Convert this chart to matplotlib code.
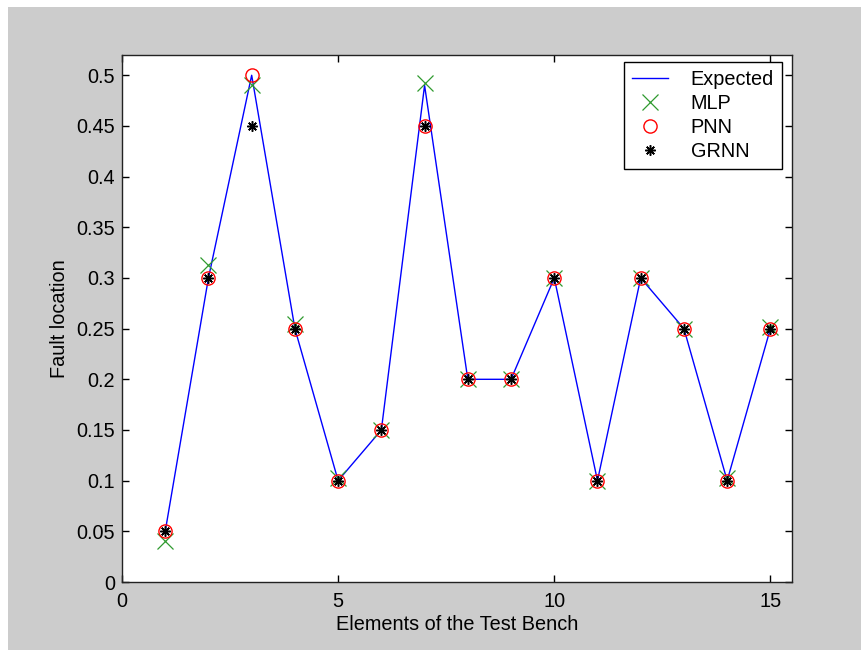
import matplotlib
matplotlib.use("Agg")
import matplotlib.pyplot as plt
from matplotlib.patches import Rectangle

elements = list(range(1, 16))
expected = [0.05, 0.30, 0.50, 0.25, 0.10, 0.15, 0.49, 0.20, 0.20, 0.30, 0.10, 0.30, 0.25, 0.10, 0.25]
mlp      = [0.04, 0.313, 0.49, 0.255, 0.103, 0.15, 0.492, 0.20, 0.20, 0.30, 0.10, 0.30, 0.25, 0.103, 0.252]
pnn      = [0.05, 0.30, 0.50, 0.25, 0.10, 0.15, 0.45, 0.20, 0.20, 0.30, 0.10, 0.30, 0.25, 0.10, 0.25]
grnn     = [0.05, 0.30, 0.45, 0.25, 0.10, 0.15, 0.45, 0.20, 0.20, 0.30, 0.10, 0.30, 0.25, 0.10, 0.25]
xticks = [0, 5, 10, 15]
yticks = [0, 0.05, 0.1, 0.15, 0.2, 0.25, 0.3, 0.35, 0.4, 0.45, 0.5]
ytick_labels = ["0", "0.05", "0.1", "0.15", "0.2", "0.25", "0.3", "0.35", "0.4", "0.45", "0.5"]

plt.rcParams['font.family'] = ['Liberation Sans', 'DejaVu Sans']
plt.rcParams['font.size'] = 14.3

fig = plt.figure(figsize=(8.61, 6.5), dpi=100, facecolor='white')
fig.patches.append(Rectangle((8/861, 0), 1, (650-7)/650, transform=fig.transFigure,
                             facecolor='#cccccc', edgecolor='none', zorder=-10))
ax = fig.add_axes([122/861, (650-582)/650, (792-122)/861, (582-55)/650])
ax.set_facecolor('white')

ax.plot(elements, expected, color='#0000ff', lw=1.0, label='Expected', zorder=2)
ax.plot(elements, mlp, linestyle='none', marker='x', color='#2f9a2f', markersize=12,
        markeredgewidth=0.9, label='MLP', zorder=3)
ax.plot(elements, pnn, linestyle='none', marker='o', markerfacecolor='none',
        markeredgecolor='#ff0000', markersize=9.5, markeredgewidth=1.0, label='PNN', zorder=4)
ax.plot(elements, grnn, linestyle='none', marker=(8, 2, 0), color='black', markersize=7.5,
        markeredgewidth=1.1, label='GRNN', zorder=5)

ax.set_xlim(0, 15.5)
ax.set_ylim(0, 0.52)
ax.set_xticks(xticks)
ax.set_yticks(yticks)
ax.set_yticklabels(ytick_labels)
ax.tick_params(axis='x', pad=7)
ax.tick_params(axis='y', pad=5)
ax.tick_params(direction='in', length=5, width=1, top=True, right=True, colors='black')
for s in ax.spines.values():
    s.set_linewidth(1.0)
    s.set_color('#222222')

ax.set_xlabel('Elements of the Test Bench', labelpad=3)
ax.set_ylabel('Fault location', labelpad=5)

leg = ax.legend(loc='upper right', fancybox=False, shadow=False, framealpha=1,
                edgecolor='black', borderpad=0.4, labelspacing=0.25, handlelength=1.8,
                handletextpad=1.15, borderaxespad=0, bbox_to_anchor=(1 - 10/670, 1 - 7/527))
leg.get_frame().set_linewidth(1.0)

fig.savefig('out.png', dpi=100, facecolor=fig.get_facecolor())
